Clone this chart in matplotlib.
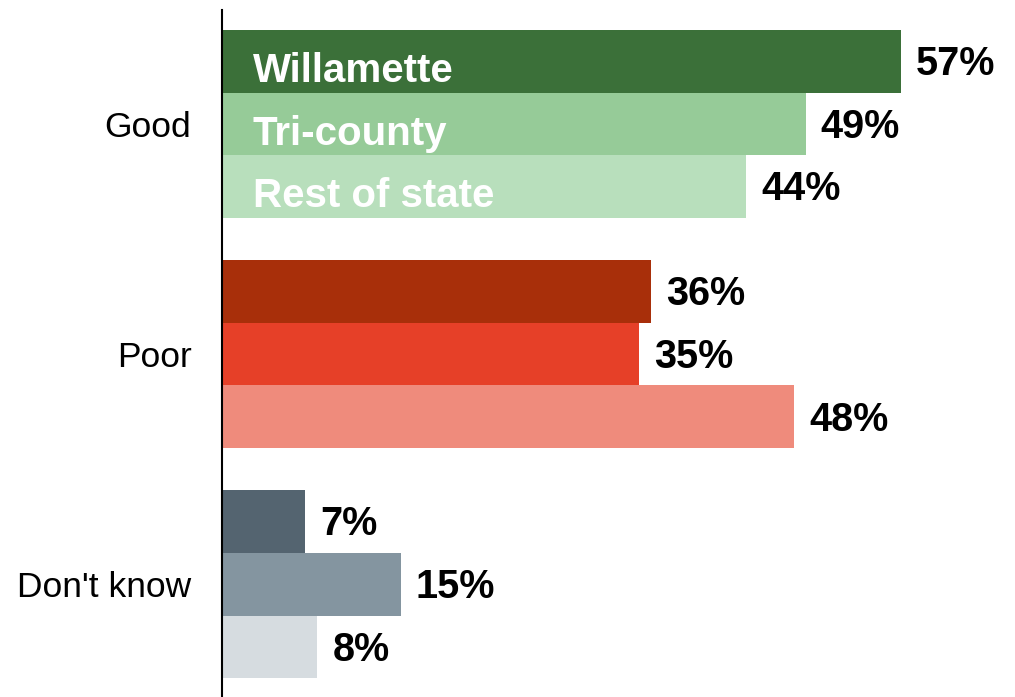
import matplotlib.pyplot as plt

plt.rcParams['font.family'] = ['Liberation Sans', 'DejaVu Sans']

categorias = ['Good', 'Poor', "Don't know"]
regiones = ['Willamette', 'Tri-county', 'Rest of state']
valores = {
    'Good': [57, 49, 44],
    'Poor': [36, 35, 48],
    "Don't know": [7, 15, 8],
}
colores = {
    'Good': ['#3b7039', '#96cb98', '#b8dfbc'],
    'Poor': ['#a82f0a', '#e64028', '#ef8b7c'],
    "Don't know": ['#546470', '#8495a0', '#d6dce0'],
}

paso_grupo = 3.674

fig = plt.figure(figsize=(10.15, 6.97), dpi=100)
ax = fig.add_axes([222 / 1015, 0, 1 - 222 / 1015, 687 / 697])

for g, cat in enumerate(categorias):
    for s, reg in enumerate(regiones):
        y = g * paso_grupo + s
        v = valores[cat][s]
        ax.barh(y, v, height=1.0, color=colores[cat][s])
        ax.annotate(f'{v}%', (v, y), xytext=(11, -2), textcoords='offset points',
                    va='center', ha='left', fontsize=28.5, fontweight='bold', color='black')
        if cat == 'Good':
            ax.annotate(reg, (0, y), xytext=(22, -7), textcoords='offset points',
                        va='center', ha='left', fontsize=29, fontweight='bold', color='white')

ax.set_xlim(0, (1015 - 222) / 11.91)
ax.set_ylim(2 * paso_grupo + 2.8, -0.82)
ax.set_yticks([g * paso_grupo + 1 for g in range(3)])
ax.set_yticklabels(categorias, fontsize=25.5)
ax.tick_params(axis='y', length=0, pad=22)
ax.set_xticks([])
for lado in ['top', 'right', 'bottom']:
    ax.spines[lado].set_visible(False)
ax.spines['left'].set_linewidth(1.5)
ax.spines['left'].set_color('black')

fig.savefig('out.png', dpi=100)
